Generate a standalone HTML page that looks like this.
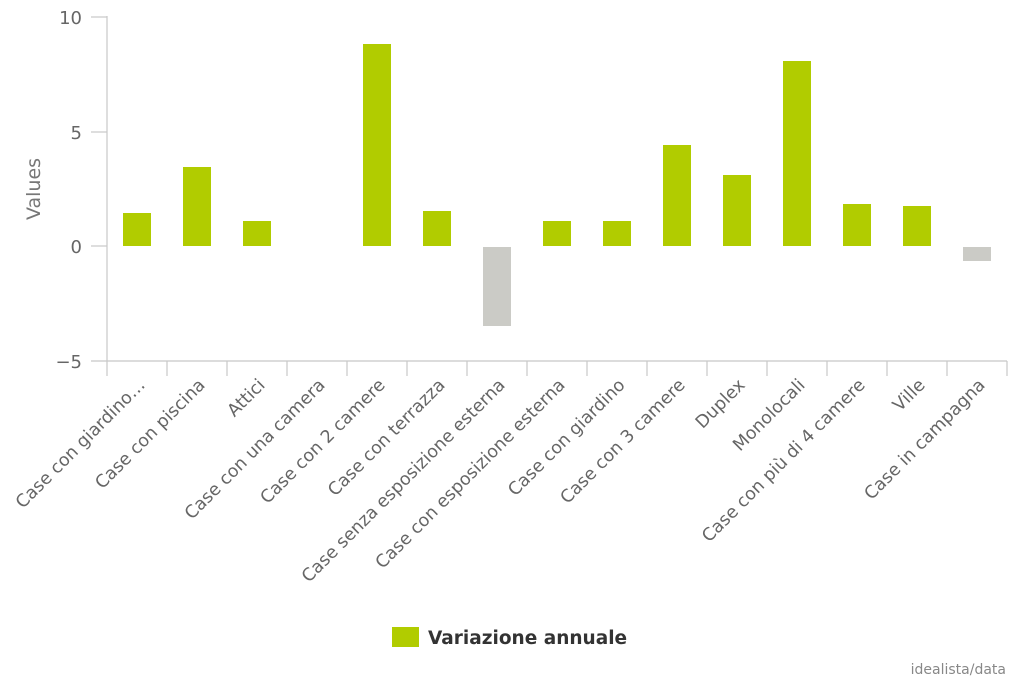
<!DOCTYPE html>
<html><head><meta charset="utf-8"><style>
body{margin:0;background:#fff;width:1024px;height:683px;overflow:hidden}
text{font-family:"DejaVu Sans","Liberation Sans",sans-serif}
</style></head><body>
<svg width="1024" height="683" viewBox="0 0 1024 683" xmlns="http://www.w3.org/2000/svg">
<g stroke="#c8c8c8" stroke-width="1.2" fill="none">
<line x1="107" y1="16" x2="107" y2="376"/>
<line x1="91" y1="17" x2="107" y2="17"/>
<line x1="91" y1="132" x2="107" y2="132"/>
<line x1="91" y1="246" x2="107" y2="246"/>
<line x1="91" y1="361" x2="1007" y2="361"/>
<line x1="167" y1="361" x2="167" y2="376"/><line x1="227" y1="361" x2="227" y2="376"/>
<line x1="287" y1="361" x2="287" y2="376"/><line x1="347" y1="361" x2="347" y2="376"/>
<line x1="407" y1="361" x2="407" y2="376"/><line x1="467" y1="361" x2="467" y2="376"/>
<line x1="527" y1="361" x2="527" y2="376"/><line x1="587" y1="361" x2="587" y2="376"/>
<line x1="647" y1="361" x2="647" y2="376"/><line x1="707" y1="361" x2="707" y2="376"/>
<line x1="767" y1="361" x2="767" y2="376"/><line x1="827" y1="361" x2="827" y2="376"/>
<line x1="887" y1="361" x2="887" y2="376"/><line x1="947" y1="361" x2="947" y2="376"/>
<line x1="1007" y1="361" x2="1007" y2="376"/>
</g>
<g fill="#666" font-size="18" text-anchor="end">
<text x="82" y="24">10</text><text x="82" y="139">5</text><text x="82" y="253">0</text><text x="82" y="368">−5</text>
</g>
<text x="40" y="189" fill="#777" font-size="19" text-anchor="middle" transform="rotate(-90 40 189)">Values</text>
<g fill="#b1cc00">
<rect x="123" y="213" width="28" height="33"/>
<rect x="183" y="167" width="28" height="79"/>
<rect x="243" y="221" width="28" height="25"/>
<rect x="363" y="44" width="28" height="202"/>
<rect x="423" y="211" width="28" height="35"/>
<rect x="543" y="221" width="28" height="25"/>
<rect x="603" y="221" width="28" height="25"/>
<rect x="663" y="145" width="28" height="101"/>
<rect x="723" y="175" width="28" height="71"/>
<rect x="783" y="61" width="28" height="185"/>
<rect x="843" y="204" width="28" height="42"/>
<rect x="903" y="206" width="28" height="40"/>
</g>
<g fill="#cbcbc6">
<rect x="483" y="247" width="28" height="79"/>
<rect x="963" y="247" width="28" height="14"/>
</g>
<g fill="#666" font-size="17.5" text-anchor="end">
<text transform="translate(146 386) rotate(-45)">Case con giardino…</text>
<text transform="translate(206 386) rotate(-45)">Case con piscina</text>
<text transform="translate(266 386) rotate(-45)">Attici</text>
<text transform="translate(326 386) rotate(-45)">Case con una camera</text>
<text transform="translate(386 386) rotate(-45)">Case con 2 camere</text>
<text transform="translate(446 386) rotate(-45)">Case con terrazza</text>
<text transform="translate(506 386) rotate(-45)">Case senza esposizione esterna</text>
<text transform="translate(566 386) rotate(-45)">Case con esposizione esterna</text>
<text transform="translate(626 386) rotate(-45)">Case con giardino</text>
<text transform="translate(686 386) rotate(-45)">Case con 3 camere</text>
<text transform="translate(746 386) rotate(-45)">Duplex</text>
<text transform="translate(806 386) rotate(-45)">Monolocali</text>
<text transform="translate(866 386) rotate(-45)">Case con più di 4 camere</text>
<text transform="translate(926 386) rotate(-45)">Ville</text>
<text transform="translate(986 386) rotate(-45)">Case in campagna</text>
</g>
<rect x="392" y="627" width="27" height="20" fill="#b1cc00"/>
<text x="428" y="644" fill="#333" font-size="18.5" font-weight="bold">Variazione annuale</text>
<text x="1006" y="674" fill="#888" font-size="14" text-anchor="end">idealista/data</text>
</svg>
</body></html>
